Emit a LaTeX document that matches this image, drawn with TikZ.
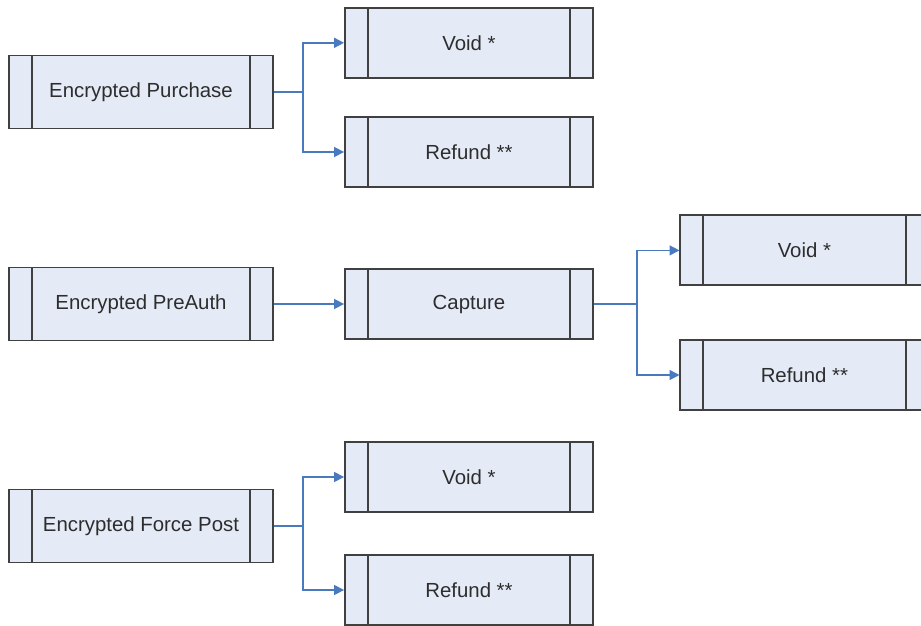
\documentclass[tikz,border=0pt]{standalone}
\usepackage{fontspec}
\setmainfont{Liberation Sans}
\usepackage{tikz}
\usetikzlibrary{positioning, arrows.meta, calc}
\usepackage{xcolor}
\definecolor{boxgray}{RGB}{64, 64, 64}
\definecolor{boxfill}{RGB}{228, 234, 246}
\definecolor{linkblue}{RGB}{74, 122, 190}
\definecolor{textgray}{RGB}{45, 45, 45}

\begin{document}
\begin{tikzpicture}[
    proc/.style={rectangle, draw=boxgray, fill=boxfill, line width=1.3pt, minimum height=1.75cm,
        text=textgray, font=\fontsize{14.5}{17}\selectfont, align=center,
        path picture={
            \draw[boxgray, line width=1.3pt] ([xshift=0.57cm]path picture bounding box.north west) -- ([xshift=0.57cm]path picture bounding box.south west);
            \draw[boxgray, line width=1.3pt] ([xshift=-0.57cm]path picture bounding box.north east) -- ([xshift=-0.57cm]path picture bounding box.south east);
        }},
    start/.style={proc, minimum width=6.6cm, minimum height=1.825cm},
    follow/.style={proc, minimum width=6.2cm},
    link/.style={draw=linkblue, line width=1pt},
    arrow/.style={link, -{Triangle[length=7pt, width=7pt]}}
]
    \useasboundingbox (0,0) rectangle (23.025,-15.65);

    \node[start] (purch) at (3.525, -2.3) {Encrypted Purchase};
    \node[start] (preauth) at (3.525, -7.6) {Encrypted PreAuth};
    \node[start] (force) at (3.525, -13.15) {Encrypted Force Post};

    \node[follow] (void1) at (11.725, -1.07) {Void *};
    \node[follow] (refund1) at (11.725, -3.8) {Refund **};
    \node[follow] (capture) at (11.725, -7.6) {Capture};
    \node[follow] (void3) at (11.725, -11.925) {Void *};
    \node[follow] (refund3) at (11.725, -14.75) {Refund **};

    \node[follow] (void2) at (20.11, -6.26) {Void *};
    \node[follow] (refund2) at (20.11, -9.375) {Refund **};

    \coordinate (split1) at (7.575, -2.3);
    \coordinate (split2) at (15.925, -7.6);
    \coordinate (split3) at (7.575, -13.15);

    \draw[link] (purch) -- (split1);
    \draw[arrow] (split1) |- (void1);
    \draw[arrow] (split1) |- (refund1);

    \draw[arrow] (preauth) -- (capture);
    \draw[link] (capture) -- (split2);
    \draw[arrow] (split2) |- (void2);
    \draw[arrow] (split2) |- (refund2);

    \draw[link] (force) -- (split3);
    \draw[arrow] (split3) |- (void3);
    \draw[arrow] (split3) |- (refund3);
\end{tikzpicture}
\end{document}
